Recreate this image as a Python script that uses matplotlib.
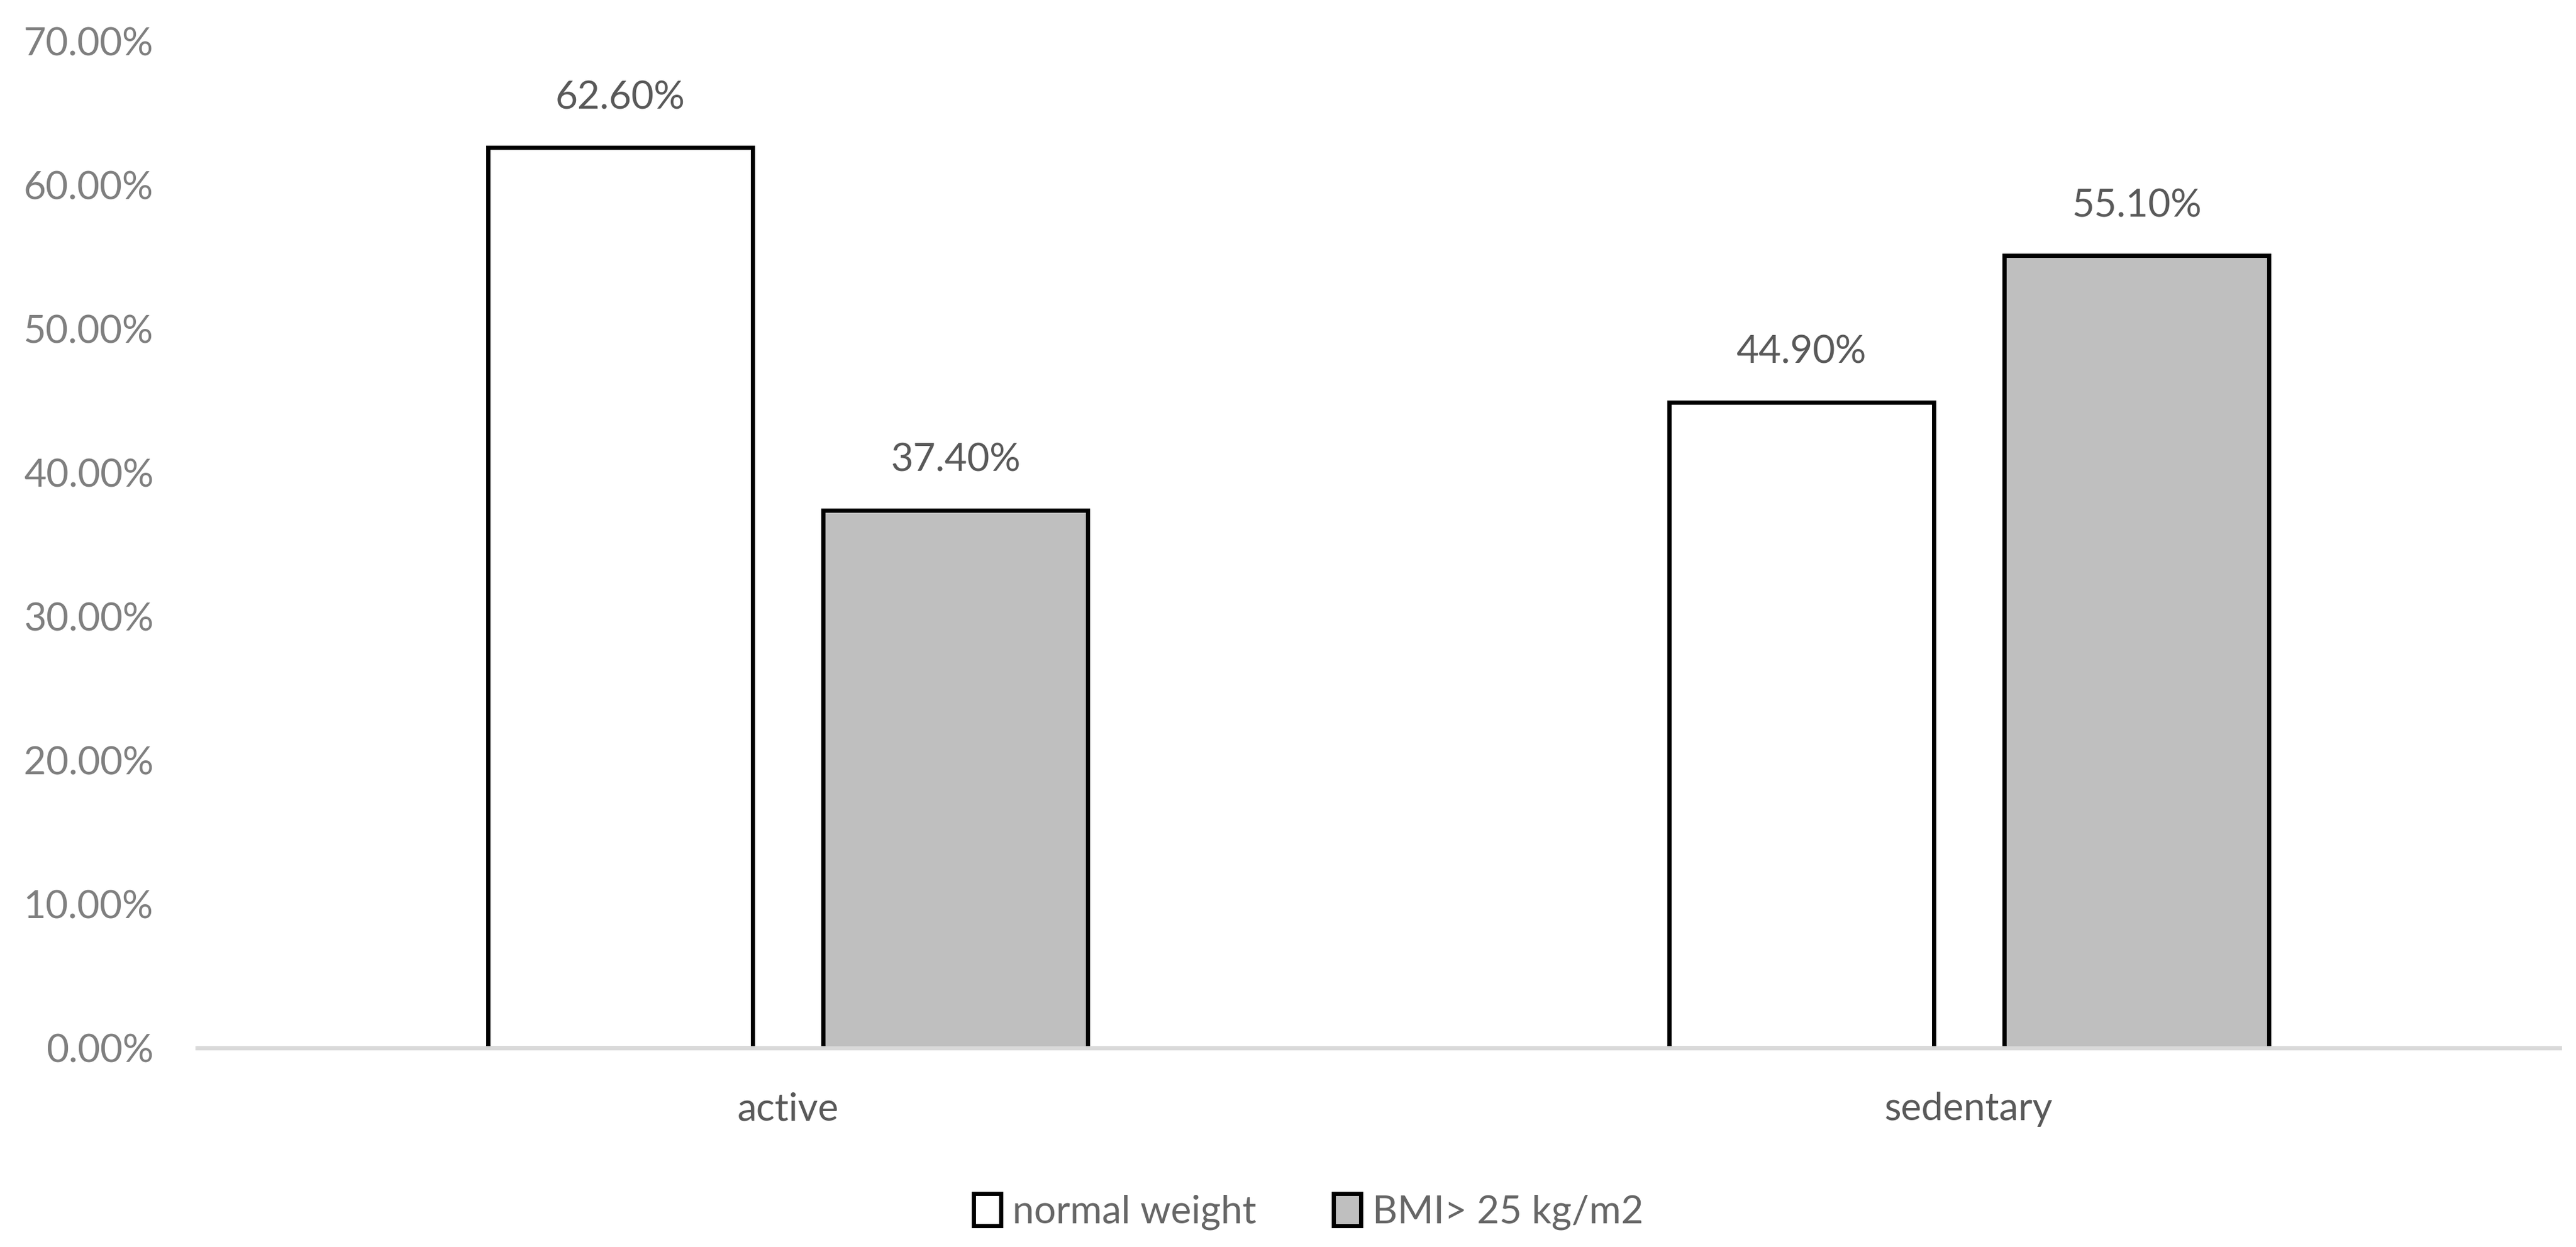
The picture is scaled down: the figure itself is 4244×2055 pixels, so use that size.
import matplotlib.pyplot as plt
import numpy as np

plt.rcParams['font.family'] = ['Lato', 'DejaVu Sans']

categories = ['active', 'sedentary']
normal_weight = [0.626, 0.449]
overweight = [0.374, 0.551]
series_names = ['normal weight', 'BMI> 25 kg/m2']
yticks = [0.0, 0.1, 0.2, 0.3, 0.4, 0.5, 0.6, 0.7]

fig = plt.figure(figsize=(21.22, 10.275), dpi=200)
ax = fig.add_axes([0.0766, 0.1596, 0.917, 0.8074])

x = np.arange(len(categories))
w = 0.224
off = 0.142

b1 = ax.bar(x - off, normal_weight, w, color='white', edgecolor='black', linewidth=2.5,
            label=series_names[0])
b2 = ax.bar(x + off, overweight, w, color='#bfbfbf', edgecolor='black', linewidth=2.5,
            label=series_names[1])

for bars, vals in [(b1, normal_weight), (b2, overweight)]:
    for r, v in zip(bars, vals):
        ax.annotate('%.2f%%' % (v * 100), (r.get_x() + r.get_width() / 2, v),
                    xytext=(0, 19), textcoords='offset points', ha='center', va='bottom',
                    fontsize=23, color='#595959')

ax.set_xlim(-0.5, 1.5)
ax.set_ylim(0, 0.70)
ax.set_yticks(yticks)
ax.set_yticklabels(['%.2f%%' % (t * 100) for t in yticks], fontsize=23, color='#7f7f7f')
ax.set_xticks(x)
ax.set_xticklabels(categories, fontsize=23, color='#595959')
ax.tick_params(axis='y', length=0, pad=26)
ax.tick_params(axis='x', length=0, pad=26)

for s in ['top', 'right', 'left']:
    ax.spines[s].set_visible(False)
ax.spines['bottom'].set_color('#d9d9d9')
ax.spines['bottom'].set_linewidth(2.5)

fig.legend(loc='center', bbox_to_anchor=(0.508, 0.028), ncol=2, frameon=False,
           fontsize=23, labelcolor='#666666', handlelength=0.7, handleheight=0.9,
           handletextpad=0.3, columnspacing=2.0)

fig.savefig('out.png', dpi=200, facecolor='white')
